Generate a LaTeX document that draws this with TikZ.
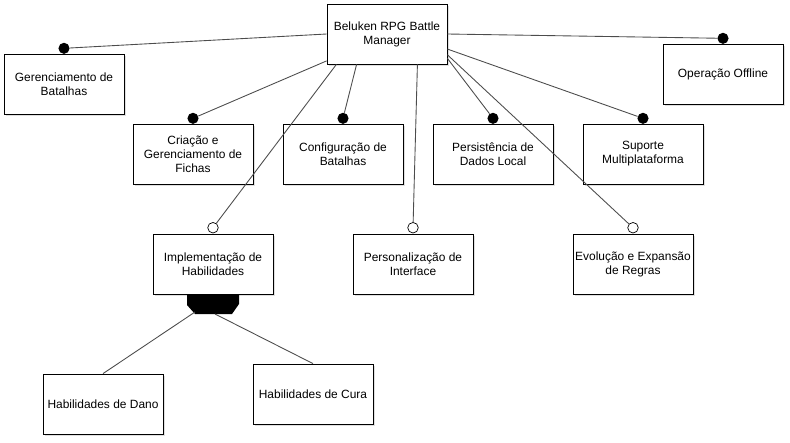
\documentclass[tikz,border=0pt]{standalone}
\usepackage{fontspec}
\setmainfont{Liberation Sans}
\usetikzlibrary{shadows}

\tikzset{
  feature/.style = {draw, fill=white, line width=0.7pt,
    minimum width=3.6cm, minimum height=1.8cm, inner sep=0pt,
    align=center, font=\fontsize{10.2}{12}\selectfont,
    drop shadow={shadow xshift=1.6pt, shadow yshift=-1.6pt, opacity=0.25}},
  link/.style = {draw=black!70, line width=0.75pt},
  mandatory/.style = {circle, fill=black, inner sep=0pt, minimum size=9.5pt},
  optional/.style = {circle, draw=black, fill=white, line width=0.6pt,
    inner sep=0pt, minimum size=9pt}
}

\begin{document}
\begin{tikzpicture}[x=0.03cm, y=-0.03cm]
\useasboundingbox (0,0) rectangle (790,442);

% features
\node[feature] (root) at (387,34) {Beluken RPG Battle\\Manager};
\node[feature] (ger)  at (64,84)   {Gerenciamento de\\Batalhas};
\node[feature] (off)  at (723,74)  {Operação Offline};
\node[feature] (fich) at (193,154) {Criação e\\Gerenciamento de\\Fichas};
\node[feature] (conf) at (343,154) {Configuração de\\Batalhas};
\node[feature] (pers) at (493,154) {Persistência de\\Dados Local};
\node[feature] (sup)  at (643,154) {Suporte\\Multiplataforma};
\node[feature] (hab)  at (213,264) {Implementação de\\Habilidades};
\node[feature] (intf) at (413,264) {Personalização de\\Interface};
\node[feature] (evo)  at (633,264) {Evolução e Expansão\\de Regras};
\node[feature] (dano) at (103,404) {Habilidades de Dano};
\node[feature] (cura) at (313,394) {Habilidades de Cura};

% mandatory
\node[mandatory] (gerdot)  at ([yshift=4.5pt]ger.north)  {};
\node[mandatory] (offdot)  at ([yshift=4.5pt]off.north)  {};
\node[mandatory] (fichdot) at ([yshift=4.5pt]fich.north) {};
\node[mandatory] (confdot) at ([yshift=4.5pt]conf.north) {};
\node[mandatory] (persdot) at ([yshift=4.5pt]pers.north) {};
\node[mandatory] (supdot)  at ([yshift=4.5pt]sup.north)  {};
\draw[link] (root.west) -- (gerdot);
\draw[link] (root.east) -- (offdot);
\draw[link] (root.204) -- (fichdot);
\draw[link] (root.225) -- (confdot);
\draw[link] (root.-22) -- (persdot);
\draw[link] (root.-14) -- (supdot);

% optional
\node[optional] (habdot)  at ([yshift=5pt]hab.north)  {};
\node[optional] (intfdot) at ([yshift=5pt]intf.north) {};
\node[optional] (evodot)  at ([yshift=5pt]evo.north)  {};
\draw[link] (root.211) -- (habdot);
\draw[link] (root.-45) -- (intfdot);
\draw[link] (root.-19) -- (evodot);

% group
\fill (187,294) -- (239,294) -- (239,304) -- (232,314) -- (195,314) -- (187,305) -- cycle;
\coordinate (grpL) at (195,312);
\coordinate (grpR) at (215,314);
\draw[link] (grpL) -- (dano.north);
\draw[link] (grpR) -- (cura.north);

\end{tikzpicture}
\end{document}
